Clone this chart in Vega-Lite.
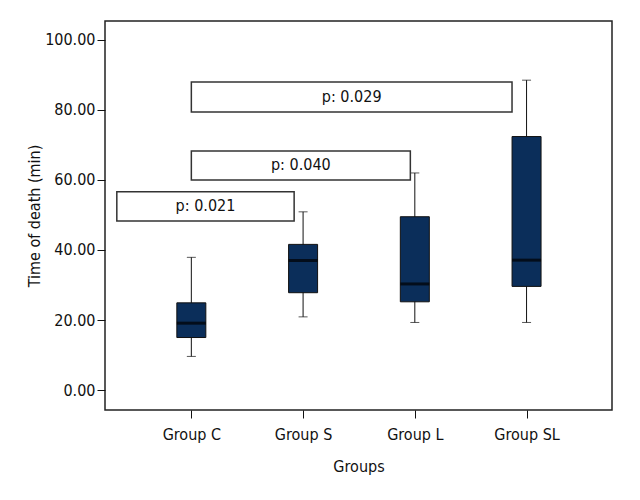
{
  "$schema": "https://vega.github.io/schema/vega-lite/v6.json",
  "width": 507,
  "height": 389,
  "autosize": {"type": "none"},
  "padding": {"left": 105, "top": 21, "right": 28, "bottom": 90},
  "config": {
    "font": "DejaVu Sans Condensed, Liberation Sans, sans-serif",
    "view": {"stroke": "#222", "strokeWidth": 1.5}
  },
  "datasets": {
    "boxes": [
      {"group": "Group C", "pos": 1, "min": 9.6, "q1": 15.0, "median": 19.1, "q3": 24.9, "max": 37.9},
      {"group": "Group S", "pos": 2, "min": 20.9, "q1": 27.8, "median": 37.0, "q3": 41.6, "max": 50.9},
      {"group": "Group L", "pos": 3, "min": 19.3, "q1": 25.2, "median": 30.3, "q3": 49.5, "max": 62.0},
      {"group": "Group SL", "pos": 4, "min": 19.3, "q1": 29.6, "median": 37.1, "q3": 72.4, "max": 88.5}
    ],
    "pvals": [
      {"label": "p: 0.021", "x1": 0.333, "x2": 1.92, "y1": 48.3, "y2": 56.6},
      {"label": "p: 0.040", "x1": 1.0, "x2": 2.96, "y1": 60.0, "y2": 68.3},
      {"label": "p: 0.029", "x1": 1.0, "x2": 3.87, "y1": 79.4, "y2": 88.0}
    ]
  },
  "layer": [
    {
      "data": {"name": "boxes"},
      "mark": {"type": "rule", "color": "#111", "strokeWidth": 1},
      "encoding": {
        "x": {
          "field": "pos", "type": "quantitative",
          "scale": {"domain": [0.272, 4.72], "nice": false, "zero": false},
          "axis": {
            "values": [1, 2, 3, 4],
            "labelExpr": "datum.value == 1 ? 'Group C' : datum.value == 2 ? 'Group S' : datum.value == 3 ? 'Group L' : 'Group SL'",
            "title": "Groups",
            "grid": false,
            "domain": false,
            "tickColor": "#111",
            "tickSize": 8,
            "labelFontSize": 16,
            "labelColor": "#111",
            "labelPadding": 8,
            "titleFontSize": 16,
            "titleFontWeight": "normal",
            "titleColor": "#111",
            "titlePadding": 16
          }
        },
        "y": {
          "field": "min", "type": "quantitative",
          "scale": {"domain": [-5.7, 105.4], "nice": false, "zero": false},
          "axis": {
            "values": [0, 20, 40, 60, 80, 100],
            "format": ".2f",
            "title": "Time of death (min)",
            "grid": false,
            "domain": false,
            "tickColor": "#111",
            "tickSize": 8,
            "labelFontSize": 16,
            "labelColor": "#111",
            "labelPadding": 2,
            "titleFontSize": 16,
            "titleFontWeight": "normal",
            "titleColor": "#111",
            "titlePadding": 2
          }
        },
        "y2": {"field": "max"}
      }
    },
    {
      "data": {"name": "boxes"},
      "mark": {"type": "tick", "orient": "horizontal", "color": "#111", "size": 9, "thickness": 1},
      "encoding": {
        "x": {"field": "pos", "type": "quantitative"},
        "y": {"field": "max", "type": "quantitative"}
      }
    },
    {
      "data": {"name": "boxes"},
      "mark": {"type": "tick", "orient": "horizontal", "color": "#111", "size": 9, "thickness": 1},
      "encoding": {
        "x": {"field": "pos", "type": "quantitative"},
        "y": {"field": "min", "type": "quantitative"}
      }
    },
    {
      "data": {"name": "boxes"},
      "mark": {"type": "bar", "orient": "vertical", "size": 29, "fill": "#0b2e5a", "stroke": "#111", "strokeWidth": 1},
      "encoding": {
        "x": {"field": "pos", "type": "quantitative"},
        "y": {"field": "q1", "type": "quantitative"},
        "y2": {"field": "q3"}
      }
    },
    {
      "data": {"name": "boxes"},
      "mark": {"type": "tick", "orient": "horizontal", "color": "#000", "size": 29, "thickness": 3},
      "encoding": {
        "x": {"field": "pos", "type": "quantitative"},
        "y": {"field": "median", "type": "quantitative"}
      }
    },
    {
      "data": {"name": "pvals"},
      "mark": {"type": "rect", "fill": "#fff", "stroke": "#333", "strokeWidth": 1.5},
      "encoding": {
        "x": {"field": "x1", "type": "quantitative"},
        "x2": {"field": "x2"},
        "y": {"field": "y1", "type": "quantitative"},
        "y2": {"field": "y2"}
      }
    },
    {
      "data": {"name": "pvals"},
      "transform": [
        {"calculate": "(datum.x1 + datum.x2) / 2", "as": "xm"},
        {"calculate": "(datum.y1 + datum.y2) / 2", "as": "ym"}
      ],
      "mark": {"type": "text", "fontSize": 16, "color": "#111", "baseline": "middle", "align": "center"},
      "encoding": {
        "x": {"field": "xm", "type": "quantitative"},
        "y": {"field": "ym", "type": "quantitative"},
        "text": {"field": "label"}
      }
    }
  ]
}
